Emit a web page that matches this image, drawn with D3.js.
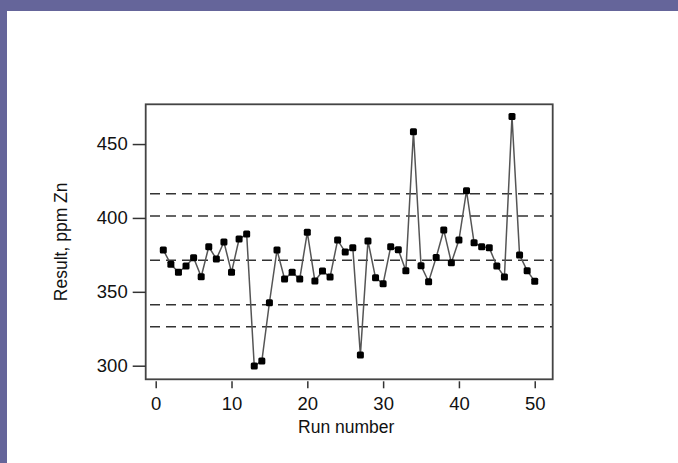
<!DOCTYPE html>
<html>
<head>
<meta charset="utf-8">
<script src="https://cdn.jsdelivr.net/npm/d3@7"></script>
<style>
  body { margin: 0; background: #fff; }
  svg { display: block; }
  text { font-family: "Liberation Sans", Arial, sans-serif; fill: #111; }
</style>
</head>
<body>
<div id="chart"></div>
<script>
// zinc results, one per run (run number = position + 1)
const results = [
  378.3, 368.6, 363.2, 367.5, 373.1, 360.2, 380.5, 372.2, 383.7, 363.2,
  385.7, 389.1, 299.8, 303.2, 342.6, 378.3, 358.7, 363.2, 358.7, 390.3,
  357.3, 364.1, 360.0, 385.0, 376.9, 379.8, 307.2, 384.4, 359.5, 355.5,
  380.5, 378.5, 364.3, 458.3, 367.7, 356.8, 373.3, 391.8, 369.7, 385.0,
  418.4, 383.2, 380.5, 379.8, 367.5, 360.0, 468.7, 374.9, 364.3, 357.1
];

// control lines: mean, +/-2s, +/-3s
const limits = [326.3, 341.3, 371.3, 401.3, 416.3];

const xTicks = [0, 10, 20, 30, 40, 50];
const yTicks = [300, 350, 400, 450];

const W = 678, H = 463;
const box = {left: 145.7, right: 552.7, top: 104.3, bottom: 379.3};

const svg = d3.select('#chart').append('svg')
    .attr('width', W)
    .attr('height', H);

// purple frame strips
svg.append('rect').attr('x', 0).attr('y', 0).attr('width', W).attr('height', 11).attr('fill', '#65659a');
svg.append('rect').attr('x', 0).attr('y', 0).attr('width', 7).attr('height', H).attr('fill', '#65659a');

const x = d3.scaleLinear().domain([-1.32, 52.37]).range([box.left, box.right]);
const y = d3.scaleLinear().domain([290.8, 476.9]).range([box.bottom, box.top]);

// dashed control lines
svg.append('g').selectAll('line')
    .data(limits)
    .join('line')
    .attr('x1', box.left)
    .attr('x2', box.right)
    .attr('y1', d => y(d))
    .attr('y2', d => y(d))
    .attr('stroke', '#333')
    .attr('stroke-width', 1.5)
    .attr('stroke-dasharray', '10,6')
    .attr('stroke-dashoffset', 11.7);

// series line
const line = d3.line()
    .x((d, i) => x(i + 1))
    .y(d => y(d));

svg.append('path')
    .datum(results)
    .attr('d', line)
    .attr('fill', 'none')
    .attr('stroke', '#555')
    .attr('stroke-width', 1.5);

// markers
svg.append('g').selectAll('rect')
    .data(results)
    .join('rect')
    .attr('x', (d, i) => x(i + 1) - 3.5)
    .attr('y', d => y(d) - 3.5)
    .attr('width', 7)
    .attr('height', 7)
    .attr('rx', 1.5)
    .attr('fill', '#000');

// plot box
svg.append('rect')
    .attr('x', box.left)
    .attr('y', box.top)
    .attr('width', box.right - box.left)
    .attr('height', box.bottom - box.top)
    .attr('fill', 'none')
    .attr('stroke', '#444')
    .attr('stroke-width', 1.8);

// x axis (ticks sit just under the box)
const gx = svg.append('g')
    .attr('transform', `translate(0,${box.bottom + 2})`)
    .call(d3.axisBottom(x).tickValues(xTicks).tickSize(7).tickPadding(9));
gx.select('.domain').remove();
gx.selectAll('line').attr('stroke', '#333').attr('stroke-width', 1.5);
gx.selectAll('text').style('font-size', '18.5px').attr('fill', '#111');

// y axis
const gy = svg.append('g')
    .attr('transform', `translate(${box.left},0)`)
    .call(d3.axisLeft(y).tickValues(yTicks).tickSize(13).tickPadding(5));
gy.select('.domain').remove();
gy.selectAll('line').attr('stroke', '#333').attr('stroke-width', 1.5);
gy.selectAll('text').style('font-size', '18.5px').attr('fill', '#111');

// axis titles
svg.append('text')
    .attr('x', (box.left + box.right) / 2 - 3)
    .attr('y', 433)
    .attr('text-anchor', 'middle')
    .style('font-size', '17.5px')
    .text('Run number');

svg.append('text')
    .attr('transform', `translate(67,${(box.top + box.bottom) / 2}) rotate(-90)`)
    .attr('text-anchor', 'middle')
    .style('font-size', '17.5px')
    .text('Result, ppm Zn');
</script>
</body>
</html>
